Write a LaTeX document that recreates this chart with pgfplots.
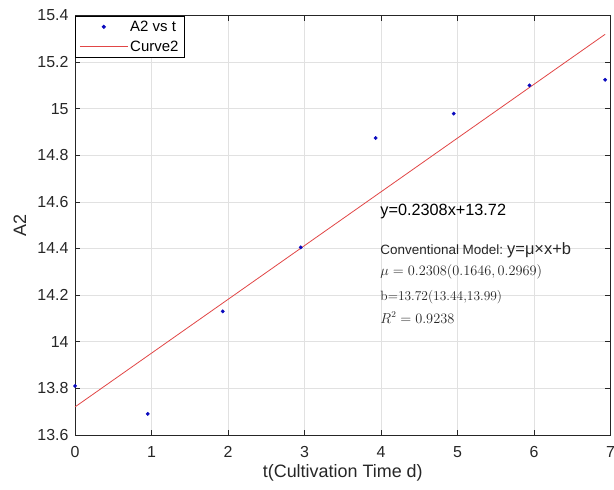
\documentclass[border=0pt]{standalone}
\usepackage[no-math]{fontspec}
\setmainfont{Liberation Sans}
\newfontfamily\lmr{Latin Modern Roman}
\usepackage{pgfplots}
\pgfplotsset{compat=1.18}
\definecolor{axgray}{RGB}{38,38,38}
\definecolor{gridgray}{RGB}{225,225,225}
\definecolor{fitred}{RGB}{225,70,70}
\definecolor{ptblue}{RGB}{10,10,190}
\begin{document}
\begin{tikzpicture}
\begin{axis}[
  scale only axis, width=535bp, height=419bp,
  xmin=0, xmax=7, ymin=13.6, ymax=15.4,
  xtick={0,1,2,3,4,5,6,7},
  ytick={13.6,13.8,14,14.2,14.4,14.6,14.8,15,15.2,15.4},
  xticklabels={0,1,2,3,4,5,6,7},
  yticklabels={13.6,13.8,14,14.2,14.4,14.6,14.8,15,15.2,15.4},
  grid=major, major grid style={gridgray, line width=0.6bp},
  tick align=inside, tick pos=both, major tick length=5bp,
  every tick/.style={axgray, line width=0.6bp},
  axis line style={axgray, line width=0.7bp},
  tick label style={font=\fontsize{16}{16}\selectfont, text=axgray},
  xticklabel style={yshift=-8bp},
  yticklabel style={xshift=-3bp},
  xlabel={t(Cultivation Time d)}, ylabel={A2},
  label style={font=\fontsize{18}{18}\selectfont, text=axgray},
  xlabel style={at={(axis description cs:0.5,-0.091)}, anchor=center},
  ylabel style={at={(axis description cs:-0.103,0.5)}, anchor=center, rotate=0},
  legend style={at={(axis description cs:0,1)}, anchor=north west, draw=black, line width=0.7bp,
    font=\fontsize{15}{15}\selectfont, inner xsep=4bp, inner ysep=3bp, row sep=4bp,
    cells={anchor=west}},
  legend image code/.code={\draw[mark repeat=2,mark phase=2,#1] plot coordinates {(0bp,0bp) (24bp,0bp) (48bp,0bp)};},
  clip=false,
]
\addplot[only marks, mark=*, mark size=1.7bp, ptblue] coordinates {
(0,13.81) (0.95,13.69) (1.93,14.13) (2.95,14.405) (3.93,14.874) (4.95,14.979) (5.94,15.10) (6.93,15.124)};
\addlegendentry{A2 vs t}
\addplot[fitred, line width=0.8bp] coordinates {(0,13.72) (6.93,15.3194)};
\addlegendentry{Curve2}
\node[anchor=west, inner sep=0pt, font=\fontsize{16.3}{16.3}\selectfont, text=black] at (axis cs:3.99,14.56) {y=0.2308x+13.72};
\node[anchor=west, inner sep=0pt, text=axgray] at (axis cs:3.99,14.393) {\fontsize{13.5}{13.5}\selectfont Conventional Model:\hspace{4bp}\fontsize{16.5}{16.5}\selectfont y=μ×x+b};
\node[anchor=west, inner sep=0pt, text=axgray, font=\fontsize{13.5}{13.5}\selectfont] at (axis cs:3.99,14.30) {$\mu = 0.2308(0.1646, 0.2969)$};
\node[anchor=west, inner sep=0pt, text=axgray, font=\fontsize{13.5}{13.5}\selectfont] at (axis cs:3.99,14.193) {\lmr b=13.72(13.44,13.99)};
\node[anchor=west, inner sep=0pt, text=axgray, font=\fontsize{13.5}{13.5}\selectfont] at (axis cs:3.99,14.103) {$R^2 = 0.9238$};
\end{axis}
\pgfresetboundingbox
\path ([shift={(-75bp,-55bp)}]current axis.south west) rectangle ([shift={(3.5bp,15.5bp)}]current axis.north east);
\end{tikzpicture}
\end{document}
